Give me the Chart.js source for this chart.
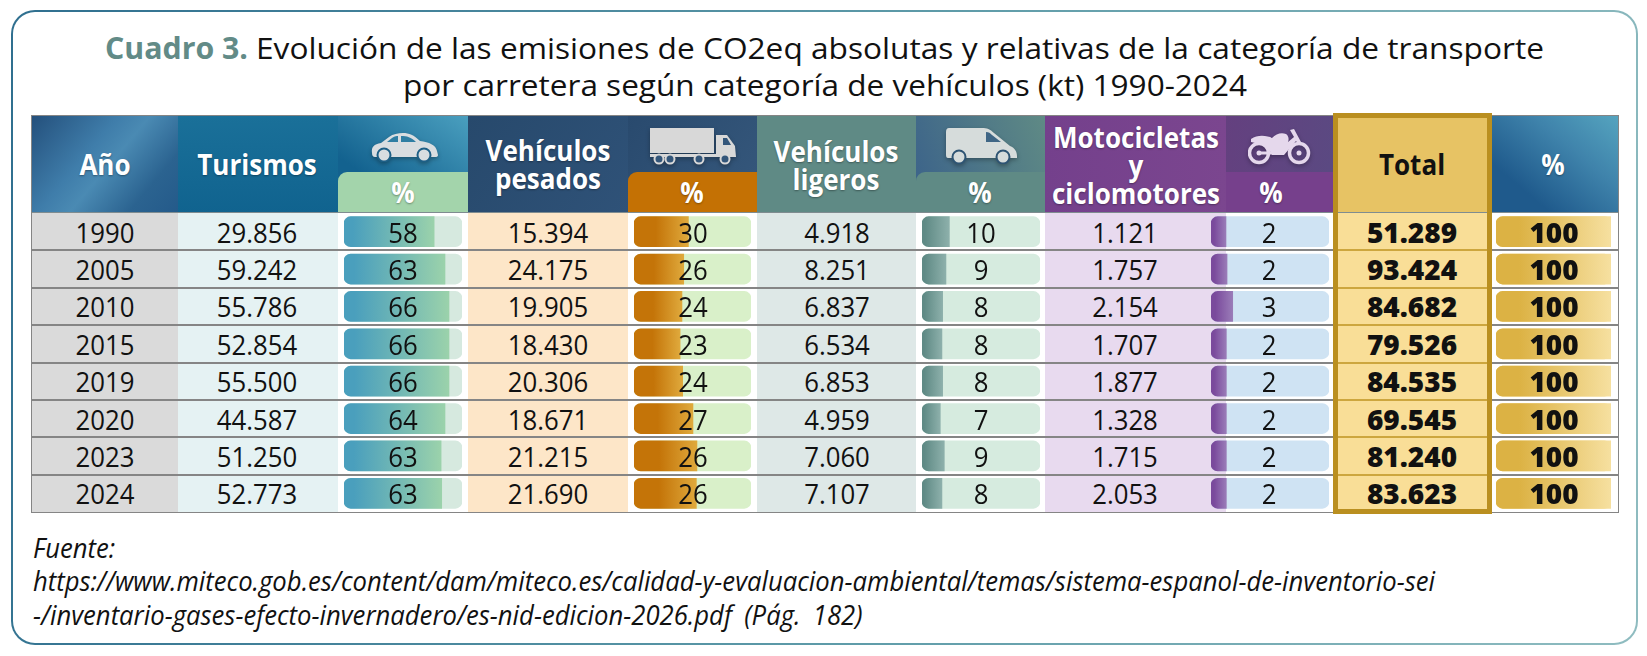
<!DOCTYPE html>
<html lang="es">
<head>
<meta charset="utf-8">
<title>Cuadro 3</title>
<script src="https://cdn.jsdelivr.net/npm/chart.js@4"></script>
<style>
html,body{margin:0;padding:0;background:#fff;width:1647px;height:656px;overflow:hidden}
#stage{position:absolute;left:0;top:0;width:1647px;height:656px;font-family:"Open Sans",sans-serif;color:#111}
.abs{position:absolute}
.t{position:absolute;white-space:pre;line-height:1;text-align:center}
canvas{position:absolute}
</style>
</head>
<body>
<div id="stage"></div>
<script>
// ---------- data ----------
const anios = ["1990","2005","2010","2015","2019","2020","2023","2024"];
const turismos = [29856,59242,55786,52854,55500,44587,51250,52773];
const turismosPct = [58,63,66,66,66,64,63,63];
const pesados = [15394,24175,19905,18430,20306,18671,21215,21690];
const pesadosPct = [30,26,24,23,24,27,26,26];
const ligeros = [4918,8251,6837,6534,6853,4959,7060,7107];
const ligerosPct = [10,9,8,8,8,7,9,8];
const motos = [1121,1757,2154,1707,1877,1328,1715,2053];
const motosPct = [2,2,3,2,2,2,2,2];
const totales = [51289,93424,84682,79526,84535,69545,81240,83623];
const totalesPct = [100,100,100,100,100,100,100,100];
// length of each drawn bar, as a share of its pill, as seen in the picture
const turismosBar = [76.4,85.6,89,89,89,85.6,82.3,82.8];
const pesadosBar = [46.5,42.5,41,39.4,41.6,50.4,53.8,53.3];
const ligerosBar = [23.2,20.3,17.5,16.9,17.5,15.5,18.9,16.9];
const motosBar = [12.7,13.6,18.4,13,13,13,13,13];
const totalesBar = [100,100,100,100,100,100,100,100];
const pillFull = [100,100,100,100,100,100,100,100];

// ---------- geometry ----------
const stage = document.getElementById('stage');
const TOP=116, HEAD=212.6, BOTTOM=512, L=32, R=1618;
const ROW=(BOTTOM-HEAD-0.4)/8;
const rowY=i=>HEAD+0.4+ROW*(i+0.5);
const fmt=n=>String(n).replace(/\B(?=(\d{3})+$)/g,'.');

function box(x,y,w,h,bg,extra){
  const d=document.createElement('div');d.className='abs';
  d.style.cssText=`left:${x}px;top:${y}px;width:${w}px;height:${h}px;background:${bg};${extra||''}`;
  stage.appendChild(d);return d;
}
function text(s,x,y,o){
  o=o||{};
  const d=document.createElement('div');d.className='t';d.textContent=s;
  const sx=o.sx||0.9;
  const left=o.left;
  d.style.left=x+'px';d.style.top=y+'px';
  d.style.fontSize=(o.size||28)+'px';
  d.style.fontWeight=o.weight||400;
  d.style.color=o.color||'#111';
  d.style.zIndex=5;
  if(left)d.style.textAlign='left';
  if(o.lh)d.style.lineHeight=o.lh+'px';
  if(o.ws)d.style.wordSpacing=o.ws+'px';
  if(o.italic)d.style.fontStyle='italic';
  if(o.shadow)d.style.textShadow=o.shadow;
  d.style.transformOrigin=left?'0 50%':'50% 50%';
  stage.appendChild(d);
  let k=sx;
  if(o.fit){k=o.fit/d.getBoundingClientRect().width;}
  d.style.transform=(left?'translateY(-50%) ':'translate(-50%,-50%) ')+`scaleX(${k})`;
  return d;
}

// ---------- card ----------
box(10.5,10,1627.5,635,'linear-gradient(#fff,#fff) padding-box, linear-gradient(100deg,#2f6f8f 0%,#5f9ca9 55%,#8fbcc0 100%) border-box',
  'box-sizing:border-box;border:2.5px solid transparent;border-radius:24px;');

// ---------- title ----------
text('Cuadro 3.',105,48,{left:true,size:30,weight:700,color:'#628b87',fit:143});
text('Evolución de las emisiones de CO2eq absolutas y relativas de la categoría de transporte',256,48,{left:true,size:30,fit:1288});
text('por carretera según categoría de vehículos (kt) 1990-2024',403,85,{left:true,size:30,fit:844});

// ---------- table backgrounds ----------
box(L-1,TOP-1,R-L+2,BOTTOM-TOP+2,'#fff','box-sizing:border-box;border:2px solid #858585;');
const cols=[
 {x:L,w:146,bg:'#dadada',head:'linear-gradient(130deg,#24507c 0%,#3f7daa 38%,#4a8ab3 52%,#2b6390 78%,#245a8a 100%)'},
 {x:178,w:160,bg:'#e5f2f3',head:'linear-gradient(#1a7099,#10638f)'},
 {x:338,w:129.5,bg:'#fff',head:'linear-gradient(35deg,#13628f 30%,#4a9fbf 100%)'},
 {x:467.5,w:160.5,bg:'#fde6c8',head:'linear-gradient(125deg,#27496c,#2f5278)'},
 {x:628,w:129,bg:'#fff',head:'linear-gradient(125deg,#294a6e,#36587c)'},
 {x:757,w:159,bg:'#dee8e7',head:'#5f8a85'},
 {x:916,w:129,bg:'#fff',head:'linear-gradient(70deg,#3a618a,#5f8a85)'},
 {x:1045,w:181,bg:'#e8daef',head:'linear-gradient(90deg,#74408c,#7b468f)'},
 {x:1226,w:108,bg:'#fff',head:'linear-gradient(100deg,#64407f,#5a4a82)'},
 {x:1334,w:156,bg:'#f9de97',head:'#e7c364'},
 {x:1490,w:128,bg:'#fff',head:'linear-gradient(40deg,#1f5a8c 25%,#3f83ab 65%,#55a4bf 100%)'}
];
cols.forEach(c=>{
  box(c.x,TOP,c.w,HEAD-TOP,c.head);
  box(c.x,HEAD,c.w,BOTTOM-HEAD,c.bg);
});
// percent sub-headers
box(338,172,129.5,40.6,'#a3d4ab','border-top-left-radius:9px;');
box(628,172,129,40.6,'#c47104','border-top-left-radius:9px;');
box(916,172,129,40.6,'#5f8a85','border-top-left-radius:9px;');
box(1226,172,108,40.6,'#76408c');
// row lines
for(let i=1;i<8;i++){box(L,HEAD+0.4+ROW*i-1,R-L,2,'#858585','z-index:1;');}
box(L,HEAD-1,R-L,1.6,'#7f8c90','z-index:1;');
// lines inside the total column
for(let i=1;i<8;i++){box(1334,HEAD+0.4+ROW*i-1,156,2,'#cda63e','z-index:2;');}
box(1333,113,158.5,401,'transparent','box-sizing:border-box;border:5px solid #ba8f20;z-index:4;');

// ---------- bars (Chart.js) ----------
function pctChart(name,x,w,values,track,c0,c1,c1stop){
  const cv=document.createElement('canvas');
  cv.id='chart-'+name;
  cv.style.left=x+'px';cv.style.top=(HEAD+0.4)+'px';cv.style.zIndex=3;
  cv.width=w;cv.height=BOTTOM-HEAD-0.4;
  cv.style.width=w+'px';cv.style.height=(BOTTOM-HEAD-0.4)+'px';
  stage.appendChild(cv);
  const grad=(ctx)=>{
    const ch=ctx.chart;
    if(!ch.chartArea||!ch.scales.x)return c0;
    const a=ch.scales.x.getPixelForValue(0), b=ch.scales.x.getPixelForValue(ctx.raw);
    const g=ch.ctx.createLinearGradient(a,0,b,0);
    g.addColorStop(0,c0);g.addColorStop(c1stop,c0);g.addColorStop(1,c1);
    return g;
  };
  return new Chart(cv,{
    type:'bar',
    data:{labels:anios,datasets:[
      {label:name,data:values,backgroundColor:grad,borderRadius:{topLeft:7,bottomLeft:7,topRight:0,bottomRight:0},borderSkipped:false,barThickness:30,grouped:false,order:1},
      {label:name+' pill',data:pillFull,backgroundColor:track,borderRadius:7,borderSkipped:false,barThickness:30,grouped:false,order:2}
    ]},
    options:{
      indexAxis:'y',responsive:false,animation:false,devicePixelRatio:window.devicePixelRatio||1,
      layout:{padding:0},
      plugins:{legend:{display:false},title:{display:false},tooltip:{enabled:false}},
      scales:{
        x:{display:false,min:0,max:100},
        y:{display:false,type:'category',offset:true}
      }
    }
  });
}
pctChart('Turismos %',343.7,118.3,turismosBar,'#d6e9df','#4a9fbd','#9bd2ab',0.1);
pctChart('Vehículos pesados %',633.7,117.6,pesadosBar,'#d9f0c9','#c47408','#dfa93c',0.4);
pctChart('Vehículos ligeros %',921.7,118,ligerosBar,'#d6ebdf','#5f8a85','#8db0ab',0.1);
pctChart('Motocicletas %',1210.7,118,motosBar,'#cfe3f3','#7a4a9c','#9a7cb8',0.2);
pctChart('Total %',1495.7,115.6,totalesBar,'#f5dd98','#dcb244','#f6e0a0',0.2);

// ---------- header text ----------
const H={size:28,weight:700,color:'#fff',sx:0.93,shadow:'0 1px 2px rgba(0,0,0,.35)',lh:28};
text('Año',104.7,164,H);
text('Turismos',257,164,H);
text('%',402.5,192,H);
text('Vehículos\npesados',547.7,164,H);
text('%',692,192,H);
text('Vehículos\nligeros',836,165,H);
text('%',980,192,H);
text('Motocicletas\ny\nciclomotores',1136,165,H);
text('%',1271,192,H);
text('Total',1412,164,{size:28,weight:700,color:'#111',sx:0.93});
text('%',1553,164,H);

// ---------- body text ----------
const colText=[
 [anios,104.7,400,s=>s],[turismos,257,400,fmt],[turismosPct,402.5,400,s=>s],
 [pesados,548,400,fmt],[pesadosPct,692.7,400,s=>s],[ligeros,836.7,400,fmt],
 [ligerosPct,980.7,400,s=>s],[motos,1125,400,fmt],[motosPct,1269,400,s=>s],
 [totales,1412,800,fmt],[totalesPct,1554,800,s=>s]
];
colText.forEach(([arr,x,w,f])=>arr.forEach((v,i)=>{
  text(f(v),x,rowY(i),{size:28,weight:w,sx:w>500?1:0.92});
}));

// ---------- source ----------
text('Fuente:\nhttps://www.miteco.gob.es/content/dam/miteco.es/calidad-y-evaluacion-ambiental/temas/sistema-espanol-de-inventorio-sei\n-/inventario-gases-efecto-invernadero/es-nid-edicion-2026.pdf (Pág. 182)',33,581,{left:true,size:27,italic:true,lh:33.3,fit:1402,ws:6});

// ---------- icons ----------
function icon(x,y,w,h,vb,inner){
  const d=document.createElement('div');d.className='abs';
  d.style.cssText=`left:${x}px;top:${y}px;width:${w}px;height:${h}px;z-index:3;filter:drop-shadow(0 2px 2px rgba(0,0,0,.3));`;
  d.innerHTML=`<svg xmlns="http://www.w3.org/2000/svg" width="${w}" height="${h}" viewBox="${vb}">${inner}</svg>`;
  stage.appendChild(d);
}
icon(371,133,67,29,'0 0 67 29',
 `<path d="M1 20 C0 14 3 11 10 10 L18 4 C22 1 27 0 32 0 C38 0 43 2 49 8 C58 9 65 12 66 18 L67 22 Q67 24 64 24 L4 24 Q1 24 1 20Z" fill="#d9dde0"/>
  <path d="M21 5 C24 3 26 3 27 3 L27 9 L16 9Z M30 3 C36 3 40 4 45 9 L30 9Z" fill="#2f7ea3"/>
  <circle cx="13" cy="22" r="6.5" fill="#d9dde0" stroke="#1d5f86" stroke-width="2"/>
  <circle cx="53" cy="22" r="6.5" fill="#d9dde0" stroke="#1d5f86" stroke-width="2"/>`);
icon(650,128,86,37,'0 0 86 37',
 `<rect x="0" y="0" width="64" height="25" fill="#d8d8d8"/>
  <rect x="0" y="26" width="78" height="3" fill="#d8d8d8"/>
  <path d="M66 7 L77 7 L85 18 L86 29 L66 29Z" fill="#d8d8d8"/>
  <path d="M73 10 L77 10 L81 17 L73 17Z" fill="#33567a"/>
  <g fill="#33567a" stroke="#d8d8d8" stroke-width="2"><circle cx="9" cy="31" r="4.5"/><circle cx="20" cy="31" r="4.5"/><circle cx="49" cy="31" r="4.5"/><circle cx="75" cy="31" r="4.5"/></g>`);
icon(946,128,71,36,'0 0 71 36',
 `<path d="M3 0 L36 0 C41 0 44 1 48 5 L64 18 C69 20 71 24 71 28 L71 30 L2 30 Q0 30 0 27 L0 4 Q0 0 3 0Z" fill="#d6dcdb"/>
  <path d="M40 4 C43 4 44 5 46 7 L55 14 L40 14Z" fill="#3f6685"/>
  <circle cx="13" cy="29" r="6.5" fill="#d6dcdb" stroke="#2e5473" stroke-width="2"/>
  <circle cx="57" cy="29" r="6.5" fill="#d6dcdb" stroke="#2e5473" stroke-width="2"/>`);
icon(1248,128,63,37,'0 0 63 37',
 `<g fill="none" stroke="#e5d8ec" stroke-width="3.5"><circle cx="11" cy="25" r="9.5"/><circle cx="51" cy="25" r="9.5"/></g>
  <g fill="#e5d8ec"><path d="M3 11 C10 6 20 8 24 10 C28 6 33 4 38 6 C41 8 41 12 40 14 L46 9 L42 2 L46 1 L53 14 L50 16 L48 13 L36 27 L24 27 C22 22 18 17 3 14Z"/><rect x="10" y="23.5" width="14" height="3"/><circle cx="11" cy="25" r="2.5"/><circle cx="51" cy="25" r="2.5"/></g>`);
</script>
</body>
</html>
